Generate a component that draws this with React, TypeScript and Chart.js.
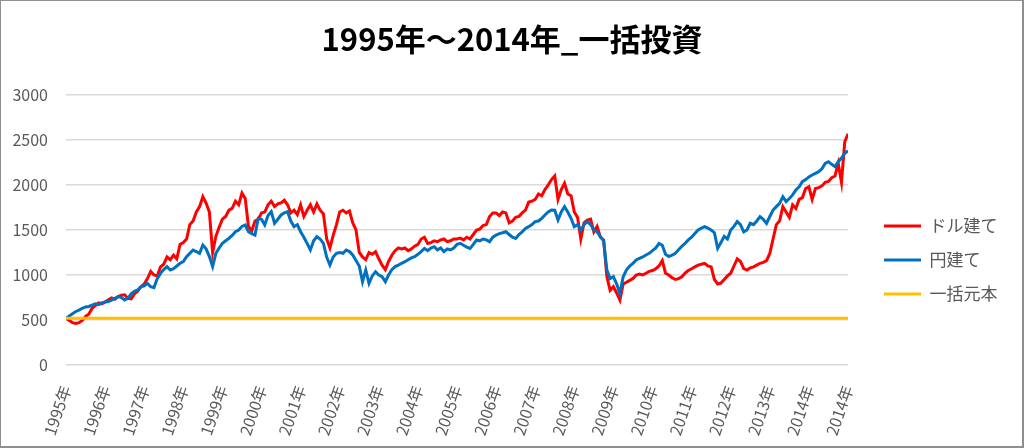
import React, { useEffect, useRef } from "react";
import { Chart, registerables } from "chart.js";

Chart.register(...registerables);

const TITLE = "1995年～2014年_一括投資";

const X_TICK_LABELS = [
  "1995年", "1996年", "1997年", "1998年", "1999年", "2000年", "2001年",
  "2002年", "2003年", "2004年", "2005年", "2006年", "2007年", "2008年",
  "2009年", "2010年", "2011年", "2012年", "2013年", "2014年", "2014年",
];

const SERIES_NAMES = ["ドル建て", "円建て", "一括元本"];

// monthly values, Jan 1995 .. Dec 2014 + final point
const DOLLAR = [
  520, 495, 470, 462, 470, 495, 540, 565, 630, 660, 690, 680,
  700, 725, 745, 730, 760, 775, 780, 740, 735, 790, 820, 870,
  900, 960, 1040, 1000, 990, 1090, 1120, 1200, 1170, 1220, 1180, 1340,
  1360, 1400, 1560, 1600, 1700, 1760, 1870, 1800, 1700, 1250, 1430, 1530,
  1620, 1650, 1720, 1740, 1820, 1780, 1910, 1850, 1540, 1490, 1600, 1620,
  1690, 1700, 1780, 1820, 1760, 1790, 1800, 1830, 1780, 1690, 1720, 1670,
  1780, 1650, 1720, 1780, 1700, 1790, 1720, 1680, 1400, 1300, 1440, 1560,
  1700, 1720, 1690, 1710, 1580, 1500, 1250, 1200, 1170, 1250, 1230, 1260,
  1180, 1110, 1060, 1150, 1220, 1270, 1300, 1290, 1300, 1270, 1290, 1320,
  1340, 1400, 1420, 1350, 1360, 1380, 1370, 1390, 1400, 1370, 1380, 1400,
  1400, 1410, 1390, 1420, 1400, 1450, 1500, 1510, 1550, 1560, 1650, 1690,
  1690, 1660, 1700, 1690, 1580, 1600, 1640, 1650, 1690, 1720, 1810, 1820,
  1840, 1900, 1880, 1950, 2000, 2060, 2100, 1840, 1950, 2020, 1900, 1880,
  1700, 1640, 1400, 1580, 1610, 1620, 1480, 1540, 1420, 1390, 980, 830,
  870, 800, 720, 900, 920, 940, 960, 1000, 1010, 1000, 1020, 1040,
  1050, 1070, 1100, 1160, 1020, 1000, 970, 950, 960, 980, 1020, 1050,
  1070, 1090, 1110, 1120, 1130, 1100, 1090, 950, 900, 910, 950, 990,
  1020, 1100, 1180, 1150, 1070, 1055, 1080, 1090, 1110, 1130, 1140, 1160,
  1240, 1400, 1560, 1600, 1760, 1700, 1640, 1780, 1740, 1840, 1860, 1960,
  1980, 1840, 1960, 1970, 1990, 2030, 2040, 2080, 2100, 2240, 2030, 2480,
  2570,
];

const YEN = [
  520, 545, 570, 595, 610, 630, 645, 650, 665, 680, 670, 690,
  700, 705, 720, 740, 760, 750, 722, 740, 790, 820, 833, 870,
  880, 907, 870, 860, 960, 1018, 1060, 1093, 1055, 1070, 1100, 1130,
  1150, 1204, 1240, 1278, 1260, 1241, 1333, 1290, 1204, 1093, 1241, 1300,
  1352, 1380, 1407, 1440, 1481, 1500, 1540, 1555, 1481, 1460, 1444, 1630,
  1620, 1556, 1660, 1704, 1574, 1620, 1667, 1690, 1704, 1600, 1537, 1560,
  1481, 1420, 1352, 1278, 1380, 1426, 1400, 1352, 1200, 1111, 1200, 1241,
  1250, 1241, 1278, 1260, 1222, 1160, 1100, 926, 1055, 907, 990, 1037,
  1000, 981, 926, 1000, 1060, 1093, 1110, 1130, 1148, 1170, 1190, 1204,
  1230, 1260, 1296, 1270, 1300, 1315, 1280, 1300, 1259, 1290, 1278, 1300,
  1340, 1352, 1330, 1310, 1296, 1340, 1389, 1380, 1400, 1390, 1370, 1420,
  1444, 1460, 1470, 1481, 1450, 1420, 1407, 1450, 1480, 1518, 1537, 1560,
  1593, 1600, 1630, 1667, 1700, 1722, 1720, 1611, 1700, 1759, 1700, 1630,
  1537, 1560, 1500, 1560, 1593, 1560, 1500, 1480, 1426, 1380, 1055, 960,
  981, 900, 796, 980, 1055, 1100, 1130, 1167, 1185, 1200, 1222, 1241,
  1270, 1300, 1350, 1330, 1230, 1205, 1220, 1241, 1280, 1320, 1352, 1390,
  1420, 1460, 1500, 1520, 1537, 1520, 1500, 1470, 1296, 1360, 1430, 1400,
  1500, 1540, 1593, 1560, 1480, 1500, 1575, 1560, 1600, 1648, 1620, 1574,
  1650, 1722, 1760, 1796, 1870, 1815, 1850, 1890, 1944, 1980, 2037, 2060,
  2090, 2111, 2130, 2148, 2180, 2240, 2259, 2230, 2204, 2259, 2300, 2352,
  2380,
];

const PRINCIPAL = 520;

const COLORS = ["#FF0000", "#0070C0", "#FFC000"];

const CJK = "'Noto Sans CJK JP', 'Open Sans', sans-serif";

export default function App() {
  const ref = useRef<HTMLCanvasElement>(null);

  useEffect(() => {
    const toPoints = (arr: number[]) => arr.map((v, i) => ({ x: i, y: v }));
    const lastIndex = DOLLAR.length - 1;

    const legendPlacer = {
      id: "legendPlacer",
      beforeLayout(chart: any) {
        const lg = chart.legend;
        if (lg && !lg._patchedFit) {
          const fit = lg.fit.bind(lg);
          lg.fit = () => {
            fit();
            lg.width = 176;
          };
          lg._patchedFit = true;
        }
      },
      afterLayout(chart: any) {
        const lg = chart.legend;
        if (!lg) return;
        const w = lg.right - lg.left;
        lg.left = chart.chartArea.right + 19;
        lg.right = lg.left + w;
        const h = lg.bottom - lg.top;
        lg.top = 260 - h / 2;
        lg.bottom = 260 + h / 2;
      },
    };

    const chart = new Chart(ref.current as HTMLCanvasElement, {
      type: "line",
      data: {
        datasets: [
          {
            label: SERIES_NAMES[0],
            data: toPoints(DOLLAR),
            borderColor: COLORS[0],
            backgroundColor: COLORS[0],
            borderWidth: 3,
            pointRadius: 0,
            tension: 0,
            order: 2,
          },
          {
            label: SERIES_NAMES[1],
            data: toPoints(YEN),
            borderColor: COLORS[1],
            backgroundColor: COLORS[1],
            borderWidth: 3,
            pointRadius: 0,
            tension: 0,
            order: 1,
          },
          {
            label: SERIES_NAMES[2],
            data: [
              { x: 0, y: PRINCIPAL },
              { x: lastIndex, y: PRINCIPAL },
            ],
            borderColor: COLORS[2],
            backgroundColor: COLORS[2],
            borderWidth: 3,
            pointRadius: 0,
            order: 0,
          },
        ],
      },
      options: {
        responsive: false,
        animation: false,
        layout: { padding: 0 },
        plugins: {
          title: {
            display: true,
            text: TITLE,
            color: "#000000",
            font: { size: 31, weight: "bold", family: CJK },
            padding: { top: 21, bottom: 36.8 },
          },
          legend: {
            position: "right",
            labels: {
              boxWidth: 37,
              boxHeight: 3,
              padding: 17,
              color: "#595959",
              font: { size: 17, family: CJK },
              generateLabels: (c: any) =>
                c.data.datasets.map((ds: any, i: number) => ({
                  text: ds.label,
                  fillStyle: ds.borderColor,
                  strokeStyle: ds.borderColor,
                  lineWidth: 0,
                  hidden: false,
                  datasetIndex: i,
                  fontColor: "#595959",
                })),
            },
          },
          tooltip: { enabled: false },
        },
        scales: {
          x: {
            type: "linear",
            min: 0,
            max: lastIndex,
            grid: { display: false },
            border: { display: false },
            ticks: {
              stepSize: 12,
              autoSkip: false,
              minRotation: 71,
              maxRotation: 71,
              padding: 10,
              color: "#595959",
              font: { size: 16, family: CJK },
              callback: (v: any) => {
                const idx = Math.round(Number(v) / 12);
                return X_TICK_LABELS[idx] ?? "";
              },
            },
            afterFit: (s: any) => {
              s.height = 83;
            },
          },
          y: {
            min: 0,
            max: 3000,
            grid: { color: "#d9d9d9", lineWidth: 1.5, drawTicks: false },
            border: { display: false },
            ticks: {
              stepSize: 500,
              padding: 18,
              color: "#595959",
              font: { size: 16, family: CJK },
              callback: (v: any) => String(v),
            },
            afterFit: (s: any) => {
              s.width = 66;
            },
          },
        },
      } as any,
      plugins: [legendPlacer],
    });

    return () => chart.destroy();
  }, []);

  return (
    <div
      style={{
        position: "fixed",
        left: 0,
        top: 0,
        width: 1024,
        height: 448,
        background: "#ffffff",
      }}
    >
      <canvas
        ref={ref}
        width={1024}
        height={448}
        style={{ display: "block", width: 1024, height: 448 }}
      />
      <div
        style={{
          position: "absolute",
          left: 0,
          top: 0,
          width: 1024,
          height: 448,
          boxSizing: "border-box",
          borderStyle: "solid",
          borderColor: "#8f8f8f",
          borderWidth: "1px 2px 2px 1px",
          pointerEvents: "none",
        }}
      />
    </div>
  );
}
